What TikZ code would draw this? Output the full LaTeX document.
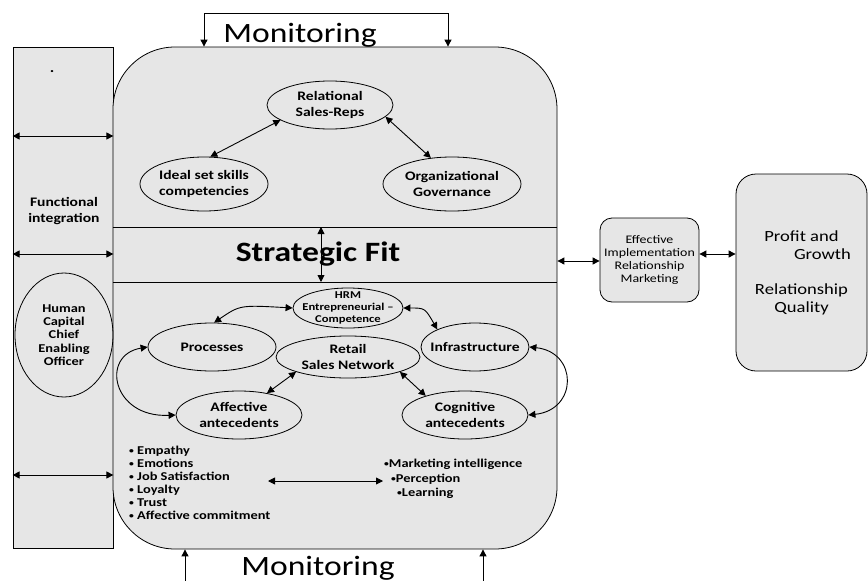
\documentclass[tikz,border=0pt]{standalone}
\usepackage{fontspec}
\setmainfont{Carlito}[FakeStretch=1.2]
\usetikzlibrary{shapes.geometric,arrows.meta}
\definecolor{boxgray}{HTML}{E6E6E6}
\newcommand{\smbul}{\raisebox{0.6pt}{\fontsize{8}{8}\selectfont •}}
\begin{document}
\begin{tikzpicture}[x=1pt,y=-1pt,
  tip/.style={-{Triangle[length=7pt,width=7pt]},line width=0.9pt},
  dbl/.style={{Triangle[length=7pt,width=7pt]}-{Triangle[length=7pt,width=7pt]},line width=0.9pt},
  oval/.style={ellipse,draw,line width=0.8pt,inner xsep=-14pt,inner ysep=-10pt,
    font=\bfseries\fontsize{13}{15.5}\selectfont,align=center},
  panel/.style={draw,fill=boxgray,line width=0.8pt,inner sep=0pt},
  bul/.style={anchor=base west,inner sep=0pt,font=\bfseries\fontsize{12}{13}\selectfont}]
\useasboundingbox (0,0) rectangle (868,581);
% panels
\node[panel,minimum width=100pt,minimum height=501pt] (lp) at (63,297.5) {};
\node[panel,rounded corners=62pt,minimum width=444pt,minimum height=502pt] (main) at (335,298) {};
\node[panel,rounded corners=12pt,minimum width=99pt,minimum height=84pt,
  font=\fontsize{11.6}{13}\selectfont,align=center] (eff) at (649.5,260)
  {Effective\\Implementation\\Relationship\\Marketing};
\node[panel,rounded corners=20pt,minimum width=131pt,minimum height=197pt,
  font=\fontsize{15.5}{18}\selectfont,align=center] (profit) at (801.5,272.5)
  {Profit and\\\hspace*{42pt}Growth\\[17pt]Relationship\\Quality};
\coordinate (y254) at (0,254);
\coordinate (y261) at (0,261);
\draw[dbl] (main.east |- y261) -- (eff.west |- y261);
\draw[dbl] (eff.east |- y254) -- (profit.west |- y254);
% strategic fit band
\coordinate (b1) at (0,227);
\coordinate (b2) at (0,282);
\draw[line width=0.8pt] (main.west |- b1) -- (main.east |- b1);
\draw[line width=0.8pt] (main.west |- b2) -- (main.east |- b2);
\node[font=\bfseries\fontsize{28}{28}\selectfont] (sf) at (318,254) {Strategic Fit};
\coordinate (s1) at (321,227);
\coordinate (s2) at (321,282);
\draw[dbl] (s1) -- (s2);
% left panel
\node[font=\bfseries\fontsize{14}{14}\selectfont] (dot) at (52,72) {.};
\node[font=\bfseries\fontsize{13}{15.5}\selectfont,align=center] (fi) at (64,211) {Functional\\integration};
\node[oval,minimum width=98pt,minimum height=124pt,font=\bfseries\fontsize{12}{13.3}\selectfont] (hc) at (64,335)
  {Human\\Capital\\Chief\\Enabling\\Officer};
\foreach \yy [count=\i] in {136,254,475} {
  \coordinate (ly\i) at (0,\yy);
  \draw[dbl] (lp.west |- ly\i) -- (lp.east |- ly\i);
}
% monitoring
\node[anchor=base,font=\fontsize{28}{28}\selectfont] (mon1) at (300,42) {Monitoring};
\node[anchor=base,font=\fontsize{28}{28}\selectfont] (mon2) at (318,575) {Monitoring};
\coordinate (mt1) at (204,13);
\coordinate (mt2) at (448,13);
\draw[line width=0.9pt] (mt1) -- (mt2);
\draw[tip] (mt1) -- (mt1 |- main.north);
\draw[tip] (mt2) -- (mt2 |- main.north);
\coordinate (mb1) at (185,581);
\coordinate (mb2) at (483,581);
\draw[tip] (mb1) -- (mb1 |- main.south);
\draw[tip] (mb2) -- (mb2 |- main.south);
% top ovals
\node[oval,minimum width=126pt,minimum height=48pt] (rel) at (330,105) {Relational\\Sales-Reps};
\node[oval,minimum width=128pt,minimum height=54pt] (ideal) at (204,184) {Ideal set skills\\competencies};
\node[oval,minimum width=138pt,minimum height=54pt] (org) at (452,184) {Organizational\\Governance};
\draw[dbl] (rel.197) -- (ideal.77);
\draw[dbl] (rel.348) -- (org.129);
% bottom ovals
\node[oval,minimum width=110pt,minimum height=40pt,font=\bfseries\fontsize{10.5}{12}\selectfont] (hrm) at (348,308)
  {HRM\\Entrepreneurial --\\Competence};
\node[oval,minimum width=128pt,minimum height=48pt] (proc) at (212,347) {Processes};
\node[oval,minimum width=144pt,minimum height=42pt] (retail) at (348,357) {Retail\\Sales Network};
\node[oval,minimum width=108pt,minimum height=48pt] (infra) at (475,347) {Infrastructure};
\node[oval,minimum width=126pt,minimum height=48pt] (aff) at (239,415) {Affective\\antecedents};
\node[oval,minimum width=126pt,minimum height=48pt] (cog) at (465,415) {Cognitive\\antecedents};
\draw[dbl] (hrm.west) .. controls (240,305) .. (proc.85);
\draw[dbl] (hrm.east) .. controls (425,308) .. (infra.155);
\draw[dbl] (retail.196) -- (aff.38);
\draw[dbl] (retail.344) -- (cog.154);
\draw[dbl] (proc.west) .. controls (100,355) and (112,418) .. (aff.west);
\draw[dbl] (infra.east) .. controls (578,352) and (578,410) .. (cog.east);
% bullet lists
\foreach \t [count=\i] in {Empathy,Emotions,Job Satisfaction,Loyalty,Trust,Affective commitment} {
  \node[bul] (l\i) at (129,{454.5+13*(\i-1)}) {\smbul\ \t};
}
\node[bul] (r1) at (384,467) {\smbul Marketing intelligence};
\node[bul] (r2) at (391,482) {\smbul Perception};
\node[bul] (r3) at (397,496.5) {\smbul Learning};
\coordinate (la) at (268,481);
\coordinate (lb) at (383,481);
\draw[dbl] (la) -- (lb);
\end{tikzpicture}
\end{document}
